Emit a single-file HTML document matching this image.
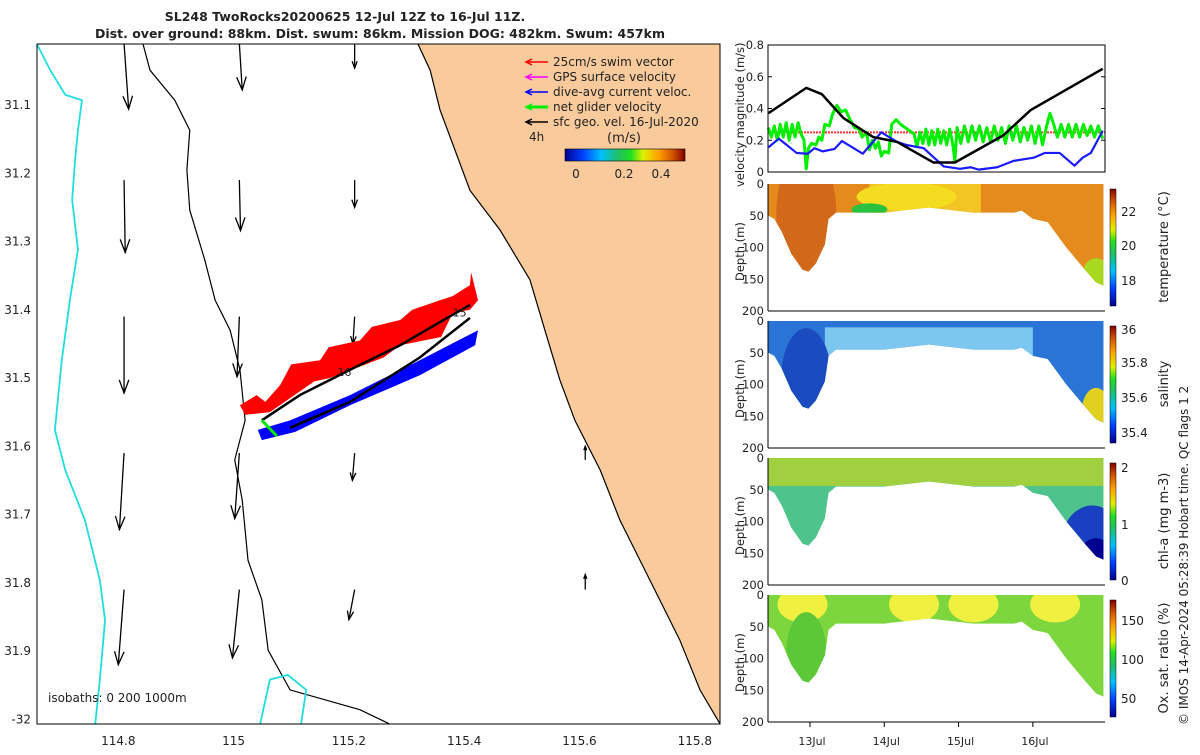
<!DOCTYPE html>
<html><head><meta charset="utf-8">
<style>
body{margin:0;background:#fff;width:1200px;height:750px;overflow:hidden;font-family:"Liberation Sans","DejaVu Sans",sans-serif;}
svg text{font-family:"DejaVu Sans","Liberation Sans",sans-serif;fill:#222;}
</style></head>
<body>
<svg id="fig" width="1200" height="750" xmlns="http://www.w3.org/2000/svg">
<defs>
<linearGradient id="jet" x1="0" x2="1" y1="0" y2="0">
<stop offset="0" stop-color="#00008f"/><stop offset="0.15" stop-color="#0040ff"/><stop offset="0.3" stop-color="#00c0ff"/><stop offset="0.45" stop-color="#20c060"/><stop offset="0.55" stop-color="#20e020"/><stop offset="0.65" stop-color="#e0f000"/><stop offset="0.78" stop-color="#ffa000"/><stop offset="0.9" stop-color="#d05000"/><stop offset="1" stop-color="#800000"/>
</linearGradient>
<linearGradient id="jetv" x1="0" x2="0" y1="1" y2="0">
<stop offset="0" stop-color="#00008f"/><stop offset="0.15" stop-color="#0040ff"/><stop offset="0.3" stop-color="#00c0ff"/><stop offset="0.45" stop-color="#20c060"/><stop offset="0.55" stop-color="#20e020"/><stop offset="0.65" stop-color="#e0f000"/><stop offset="0.78" stop-color="#ffa000"/><stop offset="0.9" stop-color="#d05000"/><stop offset="1" stop-color="#800000"/>
</linearGradient>
</defs>
<text x="345" y="21" font-size="12.5" font-weight="bold" text-anchor="middle">SL248 TwoRocks20200625 12-Jul 12Z to 16-Jul 11Z.</text>
<text x="380" y="38" font-size="12.5" font-weight="bold" text-anchor="middle">Dist. over ground: 88km. Dist. swum: 86km. Mission DOG: 482km. Swum: 457km</text>
<g id="map"></g>
<g id="vel"></g>
<g id="sections"></g>
<text transform="translate(1188,725) rotate(-90)" font-size="12">© IMOS 14-Apr-2024 05:28:39 Hobart time. QC flags 1  2</text>
</svg>
<script>
// ---------- MAP DATA ----------
const lonTicks=[114.8,115,115.2,115.4,115.6,115.8];
const latTicks=[31.1,31.2,31.3,31.4,31.5,31.6,31.7,31.8,31.9,32];
const coastLon=[115.320,115.341,115.358,115.410,115.462,115.514,115.540,115.566,115.592,115.636,115.670,115.722,115.774,115.809,115.844];
const coastLat=[31.011,31.049,31.107,31.225,31.283,31.356,31.430,31.503,31.562,31.635,31.708,31.796,31.884,31.957,32.007];
const iso200Lon=[114.843,114.855,114.898,114.924,114.919,114.924,114.950,114.968,114.994,115.011,115.020,115.011,115.002,115.015,115.025,115.049,115.060,115.098,115.219,115.271];
const iso200Lat=[31.011,31.049,31.093,31.137,31.195,31.254,31.327,31.386,31.430,31.488,31.562,31.591,31.620,31.679,31.767,31.825,31.899,31.957,31.986,32.007];
const iso1000Lon=[114.659,114.682,114.708,114.737,114.730,114.725,114.720,114.730,114.716,114.702,114.690,114.708,114.742,114.768,114.777,114.768,114.760];
const iso1000Lat=[31.011,31.049,31.085,31.093,31.137,31.181,31.239,31.312,31.386,31.474,31.576,31.635,31.708,31.796,31.855,31.942,32.007];
const iso0Lon=[115.046,115.063,115.094,115.126,115.117];
const iso0Lat=[32.007,31.942,31.935,31.957,32.007];
const redLon=[115.011,115.040,115.055,115.081,115.100,115.150,115.165,115.219,115.240,115.289,115.310,115.358,115.380,115.410,115.412,115.424,115.410,115.380,115.360,115.289,115.260,115.167,115.140,115.063,115.020];
const redLat=[31.540,31.525,31.535,31.510,31.480,31.474,31.455,31.445,31.425,31.415,31.400,31.386,31.380,31.364,31.345,31.386,31.400,31.405,31.440,31.452,31.470,31.500,31.505,31.550,31.554];
const blueLon=[115.042,115.098,115.202,115.323,115.424,115.419,115.323,115.202,115.107,115.049];
const blueLat=[31.576,31.562,31.525,31.474,31.430,31.452,31.496,31.540,31.579,31.591];
const trackLon=[115.049,115.115,115.202,115.289,115.358,115.410];
const trackLat=[31.562,31.525,31.488,31.452,31.418,31.393];
const track2Lon=[115.098,115.202,115.323,115.410];
const track2Lat=[31.573,31.535,31.470,31.412];
const arrLon=[114.81,114.81,114.81,114.81,114.81,115.01,115.01,115.01,115.01,115.01,115.21,115.21,115.21,115.21,115.21,115.61,115.61];
const arrLat=[31.01,31.21,31.41,31.61,31.81,31.01,31.21,31.41,31.61,31.81,31.01,31.21,31.41,31.61,31.81,31.62,31.81];
const arrU=[0.008,0.002,0.000,-0.008,-0.010,0.005,0.002,-0.004,-0.008,-0.012,0.000,0.000,-0.003,-0.004,-0.010,0.000,0.000];
const arrV=[0.096,0.106,0.112,0.112,0.110,0.068,0.074,0.088,0.096,0.100,0.036,0.040,0.040,0.040,0.044,-0.020,-0.022];

const NS='http://www.w3.org/2000/svg';
function mk(tag,attrs,parent){const e=document.createElementNS(NS,tag);for(const k in attrs)e.setAttribute(k,attrs[k]);parent.appendChild(e);return e;}
const mx=lon=>37+(lon-114.659)*576.5;
const my=lat=>105+(lat-31.1)*682.5;
const map=document.getElementById('map');
const ptsLL=(lo,la)=>lo.map((v,i)=>mx(v)+','+my(la[i])).join(' ');
let land=mk('polygon',{points:ptsLL(coastLon,coastLat)+' 720,724 720,44',fill:'#f9cb9c'},map);


mk('rect',{x:720.5,y:44,width:8,height:680,fill:'#fff'},map);
let coast=mk('polyline',{points:ptsLL(coastLon,coastLat),fill:'none',stroke:'#000','stroke-width':1.2},map);


let i200=mk('polyline',{points:ptsLL(iso200Lon,iso200Lat),fill:'none',stroke:'#000','stroke-width':1.2},map);


let i1000=mk('polyline',{points:ptsLL(iso1000Lon,iso1000Lat),fill:'none',stroke:'#22dddd','stroke-width':1.8},map);


let i0=mk('polyline',{points:ptsLL(iso0Lon,iso0Lat),fill:'none',stroke:'#22dddd','stroke-width':1.8},map);


arrLon.forEach((lo,i)=>{
 const x1=mx(lo),y1=my(arrLat[i]),x2=mx(lo+arrU[i]),y2=my(arrLat[i]+arrV[i]);
 const g=mk('g',{},map);
 
 
 mk('line',{x1,y1,x2,y2,stroke:'#000','stroke-width':1.3},g);
 const a=Math.atan2(y2-y1,x2-x1),h=Math.min(14,Math.hypot(x2-x1,y2-y1)*0.3);
 mk('polyline',{points:`${x2-h*Math.cos(a-0.35)},${y2-h*Math.sin(a-0.35)} ${x2},${y2} ${x2-h*Math.cos(a+0.35)},${y2-h*Math.sin(a+0.35)}`,fill:'none',stroke:'#000','stroke-width':1.3},g);
});
let bl=mk('polygon',{points:ptsLL(blueLon,blueLat),fill:'#0000ff'},map);


let rd=mk('polygon',{points:ptsLL(redLon,redLat),fill:'#ff0000'},map);


let tr=mk('polyline',{points:ptsLL(trackLon,trackLat),fill:'none',stroke:'#000','stroke-width':2.5},map);


let tr2=mk('polyline',{points:ptsLL(track2Lon,track2Lat),fill:'none',stroke:'#000','stroke-width':2.5},map);


let gn=mk('line',{x1:mx(115.049),y1:my(31.562),x2:mx(115.075),y2:my(31.585),stroke:'#00ee00','stroke-width':3},map);


[['15',mx(115.38),my(31.41)],['16',mx(115.18),my(31.497)]].forEach(d=>{const t=mk('text',{x:d[1],y:d[2],'font-size':11},map);t.textContent=d[0];});
mk('rect',{x:37,y:44,width:683,height:680,fill:'none',stroke:'#000','stroke-width':1},map);
lonTicks.forEach(v=>{const t=mk('text',{x:mx(v),y:745,'font-size':12,'text-anchor':'middle'},map);t.textContent=v;});
latTicks.forEach(v=>{const t=mk('text',{x:31,y:my(v)+4,'font-size':12,'text-anchor':'end'},map);t.textContent=v===32?'-32':v.toFixed(1);});
let isoT=mk('text',{x:48,y:702,'font-size':12},map);isoT.textContent='isobaths: 0   200  1000m';


const legItems=[['25cm/s swim vector','#ff0000'],['GPS surface velocity','#ff00ff'],['dive-avg current veloc.','#0000ff'],['net glider velocity','#00ee00'],['sfc geo. vel. 16-Jul-2020','#000']];
legItems.forEach((it,i)=>{const y=62+i*15;const g=mk('g',{},map);
 
 
 mk('line',{x1:526,y1:y,x2:548,y2:y,stroke:it[1],'stroke-width':i==3?3:1.5},g);
 mk('polyline',{points:`532,${y-3} 526,${y} 532,${y+3}`,fill:'none',stroke:it[1],'stroke-width':1.5},g);
 const t=mk('text',{x:553,y:y+4,'font-size':12},g);t.textContent=it[0];});
let h4=mk('text',{x:529,y:141,'font-size':12},map);h4.textContent='4h';
let ms=mk('text',{x:607,y:142,'font-size':13},map);ms.textContent='(m/s)';
let cb=mk('rect',{x:565,y:149,width:120,height:12,fill:'url(#jet)',stroke:'#000','stroke-width':0.6},map);


[['0',576],['0.2',624],['0.4',661]].forEach(d=>{const t=mk('text',{x:d[1],y:178,'font-size':12,'text-anchor':'middle'},map);t.textContent=d[0];});

// ---------- VELOCITY CHART DATA ----------
const dayTicks=[13,14,15,16];
const dayLabels=['13Jul','14Jul','15Jul','16Jul'];
const velTicks=[0,0.2,0.4,0.6,0.8];
const geoDays=[12.44,12.95,13.16,13.45,13.85,14.17,14.66,14.95,15.60,15.97,16.94];
const geoVals=[0.37,0.53,0.49,0.34,0.22,0.19,0.06,0.06,0.23,0.39,0.65];
const curDays=[12.44,12.58,12.82,12.97,13.06,13.17,13.33,13.43,13.71,13.96,14.17,14.30,14.53,14.80,15.02,15.16,15.27,15.52,15.74,16.01,16.16,16.36,16.56,16.67,16.78,16.94];
const curVals=[0.155,0.21,0.12,0.115,0.15,0.13,0.145,0.195,0.115,0.25,0.19,0.17,0.15,0.035,0.02,0.03,0.015,0.03,0.07,0.09,0.12,0.12,0.04,0.09,0.12,0.26];
const netDays=[12.44,12.48,12.52,12.56,12.60,12.64,12.68,12.72,12.76,12.80,12.84,12.88,12.92,12.95,12.98,13.02,13.08,13.12,13.16,13.20,13.26,13.30,13.36,13.42,13.48,13.54,13.60,13.66,13.70,13.76,13.80,13.84,13.88,13.92,13.96,14.00,14.06,14.10,14.16,14.22,14.28,14.34,14.40,14.44,14.48,14.52,14.56,14.60,14.64,14.68,14.72,14.76,14.80,14.84,14.88,14.92,14.95,14.98,15.03,15.08,15.13,15.18,15.23,15.28,15.33,15.38,15.43,15.48,15.53,15.58,15.63,15.68,15.73,15.78,15.83,15.88,15.93,15.98,16.03,16.08,16.13,16.18,16.23,16.28,16.33,16.38,16.43,16.48,16.53,16.58,16.63,16.68,16.73,16.78,16.83,16.88,16.94];
const netVals=[0.28,0.22,0.29,0.20,0.30,0.22,0.31,0.20,0.30,0.22,0.31,0.24,0.20,0.02,0.15,0.18,0.17,0.22,0.20,0.30,0.29,0.36,0.42,0.38,0.39,0.33,0.28,0.27,0.22,0.25,0.14,0.20,0.15,0.19,0.10,0.13,0.12,0.30,0.33,0.30,0.28,0.26,0.24,0.16,0.25,0.18,0.27,0.17,0.26,0.17,0.27,0.18,0.26,0.17,0.27,0.18,0.07,0.28,0.18,0.29,0.19,0.29,0.20,0.29,0.19,0.28,0.19,0.29,0.20,0.28,0.18,0.29,0.20,0.29,0.19,0.28,0.20,0.29,0.18,0.29,0.17,0.28,0.37,0.30,0.22,0.30,0.22,0.30,0.22,0.30,0.22,0.30,0.23,0.29,0.22,0.29,0.21];
const swimVal=[0.25];

const vx=d=>768+(d-12.435)*74.3;
const vy=v=>172-v*158.75;
const vel=document.getElementById('vel');
let sw=mk('line',{x1:768,x2:1105,y1:vy(swimVal[0]),y2:vy(swimVal[0]),stroke:'#ff3030','stroke-width':2,'stroke-dasharray':'2,1'},vel);


const ln=(ds,vs,col,w,name)=>{const p=mk('polyline',{points:ds.map((d,i)=>vx(d)+','+vy(vs[i])).join(' '),fill:'none',stroke:col,'stroke-width':w,'stroke-linejoin':'round'},vel);return p;};
let l1=ln(netDays,netVals,'#00ee00',3,'net-glider-speed-line');
let l2=ln(curDays,curVals,'#1a1aff',2.2,'current-speed-line');
let l3=ln(geoDays,geoVals,'#000',2.5,'geostrophic-speed-line');
mk('rect',{x:768,y:45,width:337,height:127,fill:'none',stroke:'#000','stroke-width':1},vel);
velTicks.forEach(v=>{const t=mk('text',{x:764,y:vy(v)+4,'font-size':11.5,'text-anchor':'end'},vel);t.textContent=v;
 mk('line',{x1:768,x2:772,y1:vy(v),y2:vy(v),stroke:'#000'},vel);mk('line',{x1:1101,x2:1105,y1:vy(v),y2:vy(v),stroke:'#000'},vel);});
let vyl=mk('text',{transform:'translate(744,187) rotate(-90)','font-size':11.5},vel);vyl.textContent='velocity magnitude (m/s)';



// ---------- SECTION PANELS ----------
const bottomDays=[12.44,12.52,12.62,12.75,12.90,12.98,13.08,13.20,13.25,13.35,14.0,14.6,15.2,15.75,15.85,16.0,16.2,16.45,16.7,16.85,16.95];
const bottomDepth=[50,55,75,110,135,138,125,95,55,45,45,37,45,45,42,55,60,100,135,155,160];
const depthTicks=[0,50,100,150,200];
const panelTops=[184,321,458,595];
const sec=document.getElementById('sections');
const panels=[
 {name:'temperature',label:'temperature (°C)',base:'#e58a1c',cb:[[22,211],[20,245],[18,280]]},
 {name:'salinity',label:'salinity',base:'#2a74d6',cb:[[36,329],[35.8,362],[35.6,397],[35.4,432]]},
 {name:'chl-a',label:'chl-a (mg m-3)',base:'#4ec48c',cb:[[2,467],[1,524],[0,580]]},
 {name:'oxygen',label:'Ox. sat. ratio (%)',base:'#7ed63e',cb:[[150,620],[100,659],[50,698]]}
];
panels.forEach((p,k)=>{
 const top=panelTops[k];const dy=d=>top+d*0.635;
 const g=mk('g',{},sec);
 
 
 const pts=[vx(12.44)+','+dy(0)].concat(bottomDays.map((d,i)=>vx(d)+','+dy(bottomDepth[i]))).concat([vx(16.95)+','+dy(0)]);
 const cid='clip'+k;const cp=mk('clipPath',{id:cid},g);mk('polygon',{points:pts.join(' ')},cp);
 const body=mk('g',{'clip-path':`url(#${cid})`},g);
 mk('rect',{x:768,y:top,width:337,height:127,fill:p.base},body);
 if(k===0){mk('ellipse',{cx:vx(12.95),cy:dy(50),rx:30,ry:70,fill:'#d2681a'},body);
  mk('rect',{x:vx(13.8),y:top,width:vx(15.3)-vx(13.8),height:30,fill:'#f2c424'},body);
  mk('ellipse',{cx:vx(14.3),cy:dy(20),rx:50,ry:14,fill:'#f4dc20'},body);
  mk('ellipse',{cx:vx(13.8),cy:dy(40),rx:18,ry:6,fill:'#2ac040'},body);
  mk('ellipse',{cx:vx(16.85),cy:dy(145),rx:14,ry:18,fill:'#a8d820'},body);}
 if(k===1){mk('rect',{x:vx(13.2),y:dy(10),width:vx(16.0)-vx(13.2),height:30,fill:'#7cc6f0'},body);
  mk('ellipse',{cx:vx(16.85),cy:dy(140),rx:14,ry:22,fill:'#e0d020'},body);
  mk('ellipse',{cx:vx(12.95),cy:dy(90),rx:25,ry:50,fill:'#1a4cc0'},body);}
 if(k===2){mk('rect',{x:768,y:top,width:337,height:28,fill:'#a0d040'},body);
  mk('ellipse',{cx:vx(16.8),cy:dy(130),rx:30,ry:35,fill:'#1840c0'},body);
  mk('ellipse',{cx:vx(16.85),cy:dy(150),rx:15,ry:15,fill:'#000090'},body);}
 if(k===3){[12.9,14.4,15.2,16.3].forEach(d=>mk('ellipse',{cx:vx(d),cy:dy(15),rx:25,ry:18,fill:'#f0f040'},body));
  mk('ellipse',{cx:vx(12.95),cy:dy(90),rx:20,ry:40,fill:'#5cc838'},body);}
 mk('line',{x1:768,y1:dy(0),x2:768,y2:dy(200),stroke:'#000'},g);
 mk('line',{x1:768,y1:dy(200),x2:1105,y2:dy(200),stroke:'#000'},g);
 depthTicks.forEach(v=>{const t=mk('text',{x:764,y:dy(v)+4,'font-size':11.5,'text-anchor':'end'},g);t.textContent=v;});
 const yl=mk('text',{transform:`translate(744,${top+97}) rotate(-90)`,'font-size':11.5},g);yl.textContent='Depth (m)';
 
 
 const cbar=mk('rect',{x:1110,y:top+5,width:6,height:117,fill:'url(#jetv)',stroke:'#000','stroke-width':0.5},g);
 
 
 p.cb.forEach(c=>{const t=mk('text',{x:1121,y:c[1]+5,'font-size':12},g);t.textContent=c[0];});
 const lb=mk('text',{transform:`translate(1168,${top+63}) rotate(-90)`,'font-size':13,'text-anchor':'middle'},g);lb.textContent=p.label;
 
 
});
dayTicks.forEach((d,i)=>{const t=mk('text',{x:vx(d)+2,y:745,'font-size':11,'text-anchor':'middle'},sec);t.textContent=dayLabels[i];
 mk('line',{x1:vx(d),x2:vx(d),y1:722,y2:727,stroke:'#000'},sec);});
</script>
</body></html>
